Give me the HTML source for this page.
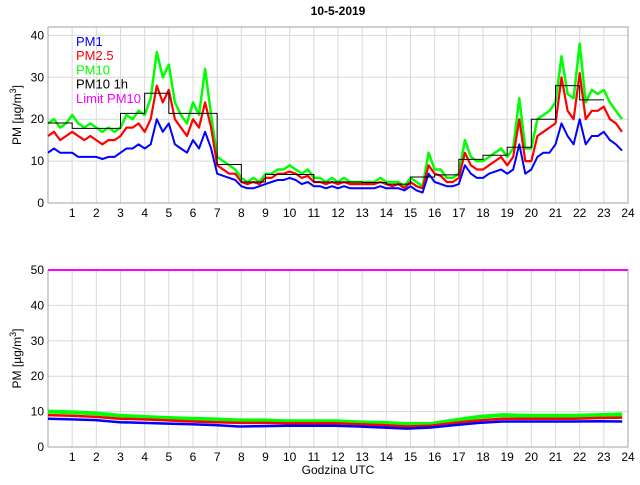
<!DOCTYPE html>
<html><head><meta charset="utf-8"><style>
body{margin:0;background:#fff}
svg{font-family:"Liberation Sans",sans-serif}
</style></head><body>
<svg id="c" width="640" height="480" xmlns="http://www.w3.org/2000/svg"></svg>
<script>
const pm10 = [19,20,18,19, 21,19,18,19, 18,17,18,17, 18,21,20,22, 21,25,36,30, 33,24,21,19, 24,21,32,21, 11,10,9,8, 6,5,6,5, 7,7,8,8, 9,8,7,8, 6,6,5,6, 5,6,5,5, 5,5,5,6, 5,5,5,4, 6,5,4,12, 8,8,6,6, 7,15,11,10, 10,11,12,13, 11,13,25,13, 13,20,21,22, 24,35,26,25, 38,24,27,26, 27,24,22,20];
const pm25 = [16,17,15,16, 17,16,15,16, 15,14,15,15, 16,18,18,19, 17,20,28,24, 27,20,18,16, 20,18,24,18, 9,8,7,7, 5,4.5,5,4.5, 6,6,7,7, 7.5,7,6,6.5, 5,5,4.5,5, 4.5,5,4.5,4.5, 4.5,4.5,4.5,5, 4.5,4,4.5,3.5, 5,4,3.5,9, 7,6.5,5,5, 6,12,9,8, 8,9,10,11, 9,11,20,10, 10,16,17,18, 19,30,22,20, 31,20,22,22, 23,20,19,17];
const pm1 = [12,13,12,12, 12,11,11,11, 11,10.5,11,11, 12,13,13,14, 13,14,20,17, 19,14,13,12, 15,13,17,13, 7,6.5,6,5.5, 4,3.5,3.5,4, 4.5,5,5.5,5.5, 6,5.5,4.5,5, 4,4,3.5,4, 3.5,4,3.5,3.5, 3.5,3.5,3.5,4, 3.5,3.5,3.5,3, 4,3,2.5,7, 5,4.5,4,4, 4.5,9,7,6, 6,7,7.5,8, 7,8,14,7, 8,11,12,12, 14,19,16,14, 20,14,16,16, 17,15,14,12.5];
const pm10h = [19.1,17.8,17.8,21.4,26.2,21.4,21.4,9.2,5.0,6.8,6.8,5.0,5.0,4.9,4.5,6.2,6.7,10.4,11.4,13.3,20,28,24.6];
const b10 = [10,9.8,9.5,8.8,8.5,8.2,8,7.8,7.5,7.5,7.3,7.3,7.3,7,6.8,6.5,6.5,7.5,8.5,9,8.8,8.8,8.8,9,9.2];
const b25 = [9,8.8,8.5,8,7.8,7.5,7.2,7,6.8,6.8,6.7,6.7,6.7,6.4,6.2,5.8,6,6.8,7.5,8,8,8,8,8.2,8.3];
const b1 = [8,7.8,7.6,7,6.8,6.6,6.4,6.2,5.8,5.9,6,6,6,5.8,5.5,5.2,5.5,6.2,6.8,7.2,7.2,7.2,7.2,7.3,7.2];
const limit = 50;
const topTicks = [0,10,20,30,40];
const botTicks = [0,10,20,30,40,50];
const xTicks = [1,2,3,4,5,6,7,8,9,10,11,12,13,14,15,16,17,18,19,20,21,22,23,24];

const svg = document.getElementById('c');
const NS = 'http://www.w3.org/2000/svg';
function mk(tag, attrs, parent){const e=document.createElementNS(NS,tag);for(const k in attrs)e.setAttribute(k,attrs[k]);(parent||svg).appendChild(e);return e;}
const L=48,R=628;
const xs = h => L + (R-L)*h/24;
const topP = {t:27,b:203,max:42};
const botP = {t:270,b:447,max:50};
const ys = (p,v) => p.b - (p.b-p.t)*v/p.max;

function axes(p, ticks, name){
  const g = mk('g',{});
  
  
  xTicks.forEach(h=>{ if(h<24){ mk('line',{x1:xs(h),x2:xs(h),y1:p.t,y2:p.b,stroke:'#d9d9d9','stroke-width':1},g);} });
  ticks.forEach(v=>{ if(v>0&&v<p.max) mk('line',{x1:L,x2:R,y1:ys(p,v),y2:ys(p,v),stroke:'#d9d9d9','stroke-width':1},g); });
  mk('rect',{x:L,y:p.t,width:R-L,height:p.b-p.t,fill:'none',stroke:'#a0a0a0','stroke-width':1},g);
  xTicks.forEach(h=>{
    const t=mk('text',{x:xs(h),y:p.b+14,'font-size':12,'text-anchor':'middle',fill:'#000'},g);
    t.textContent=h;
    
    
  });
  ticks.forEach(v=>{
    const t=mk('text',{x:L-4,y:ys(p,v)+4,'font-size':12,'text-anchor':'end',fill:'#000'},g);
    t.textContent=v;
    
    
  });
  const cy=(p.t+p.b)/2;
  const yl=mk('text',{x:0,y:0,'font-size':12,'text-anchor':'middle',transform:`translate(21,${cy}) rotate(-90)`},g);
  yl.innerHTML='PM [µg/m<tspan dy="-5" font-size="9">3</tspan><tspan dy="5">]</tspan>';
  
  
}
function series(p, arr, step, color, w, name){
  const pts = arr.map((v,i)=>xs(i*step).toFixed(1)+','+ys(p,v).toFixed(1)).join(' ');
  const e=mk('polyline',{points:pts,fill:'none',stroke:color,'stroke-width':w,'stroke-linejoin':'round'});
  
  
}
axes(topP, topTicks, 'top-axes');
axes(botP, botTicks, 'bottom-axes');

series(topP, pm10, 0.25, '#00ff00', 2.5, 'pm10-line');
series(topP, pm25, 0.25, '#ff0000', 2.2, 'pm25-line');
series(topP, pm1, 0.25, '#0000ff', 2, 'pm1-line');
let d='';
pm10h.forEach((v,i)=>{ d += (i===0?'M':'L')+xs(i)+','+ys(topP,v)+' L'+xs(i+1)+','+ys(topP,v)+' '; });
const st=mk('path',{d:d,fill:'none',stroke:'#000','stroke-width':1});



series(botP, b10, 0.99, '#00ff00', 4, 'bottom-pm10-line');
series(botP, b25, 0.99, '#ff0000', 2.5, 'bottom-pm25-line');
series(botP, b1, 0.99, '#0000ff', 2.5, 'bottom-pm1-line');
const lim=mk('line',{x1:L,x2:R,y1:ys(botP,limit),y2:ys(botP,limit),stroke:'#ff00ff','stroke-width':2});



const title=mk('text',{x:338,y:15,'font-size':12,'text-anchor':'middle','font-weight':'bold'});
title.textContent='10-5-2019';


const xl=mk('text',{x:338,y:474,'font-size':12,'text-anchor':'middle'});
xl.textContent='Godzina UTC';



const leg=[['PM1','#0000ff'],['PM2.5','#ff0000'],['PM10','#00ff00'],['PM10 1h','#000000'],['Limit PM10','#ff00ff']];
leg.forEach((l,i)=>{
  const t=mk('text',{x:76,y:46+i*14.2,'font-size':13,fill:l[1]});
  t.textContent=l[0];
  
  
});
</script>
</body></html>
